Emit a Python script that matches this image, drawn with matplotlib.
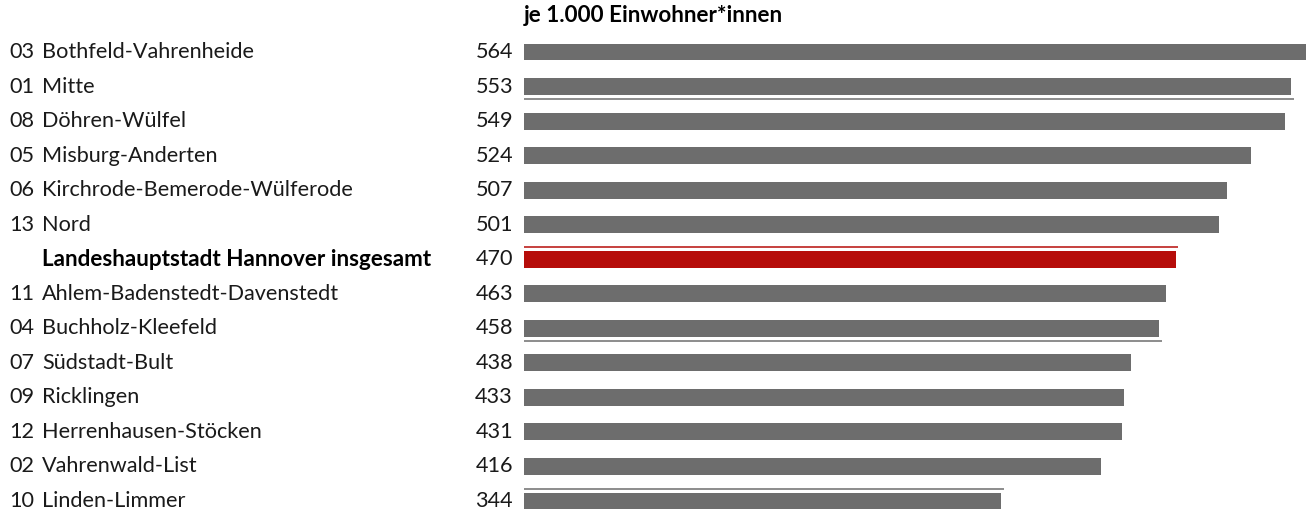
import matplotlib.pyplot as plt

# Stadtbezirke, je 1.000 Einwohner*innen
codes = ['03', '01', '08', '05', '06', '13', '', '11', '04', '07', '09', '12', '02', '10']
names = ['Bothfeld-Vahrenheide', 'Mitte', 'Döhren-Wülfel', 'Misburg-Anderten',
         'Kirchrode-Bemerode-Wülferode', 'Nord', 'Landeshauptstadt Hannover insgesamt',
         'Ahlem-Badenstedt-Davenstedt', 'Buchholz-Kleefeld', 'Südstadt-Bult',
         'Ricklingen', 'Herrenhausen-Stöcken', 'Vahrenwald-List', 'Linden-Limmer']
values = [564, 553, 549, 524, 507, 501, 470, 463, 458, 438, 433, 431, 416, 344]
total_row = 6

GRAY = '#6d6d6d'
RED = '#b60d0a'

plt.rcParams['font.family'] = ['Lato', 'DejaVu Sans']

W, H = 1315, 515
fig = plt.figure(figsize=(W / 100, H / 100), dpi=100)

# axes: bars start at x=524px, 564 reaches x=1306px
left, right = 524, 1306
top = 52 - 34.54 * 0.5
ylo = (H - 52) / 34.54
ax = fig.add_axes([left / W, 0, (right - left) / W, 1 - top / H])
ax.set_xlim(0, 564)
ax.set_ylim(ylo, -0.5)
ax.axis('off')

colors = [RED if i == total_row else GRAY for i in range(len(values))]
rows = list(range(len(values)))
ax.barh(rows, values, height=0.49, color=colors)

# thin separator lines next to some bars
for row, off, col in [(1, 0.36, GRAY), (6, -0.36, RED), (8, 0.37, GRAY), (13, -0.35, GRAY)]:
    ax.hlines(row + off, -2, values[row] + 2, color=col, lw=1.1)

tr = ax.get_yaxis_transform()
axw = right - left
fs = 15.6
fs_bold = 16.2
for i in rows:
    bold = i == total_row
    ax.text((9 - left) / axw, i, codes[i], transform=tr, ha='left', va='center',
            fontsize=fs, color='#1a1a1a')
    ax.text((42 - left) / axw, i, names[i], transform=tr, ha='left', va='center',
            fontsize=fs_bold if bold else fs,
            color='#000000' if bold else '#1a1a1a',
            fontweight='bold' if bold else 'normal')
    ax.text((513 - left) / axw, i, str(values[i]), transform=tr, ha='right',
            va='center', fontsize=fs, color='#1a1a1a')

fig.text(left / W, 1 - 15 / H, 'je 1.000 Einwohner*innen', ha='left', va='center',
         fontsize=fs_bold, fontweight='bold', color='#000000')

fig.savefig('out.png', dpi=100)
